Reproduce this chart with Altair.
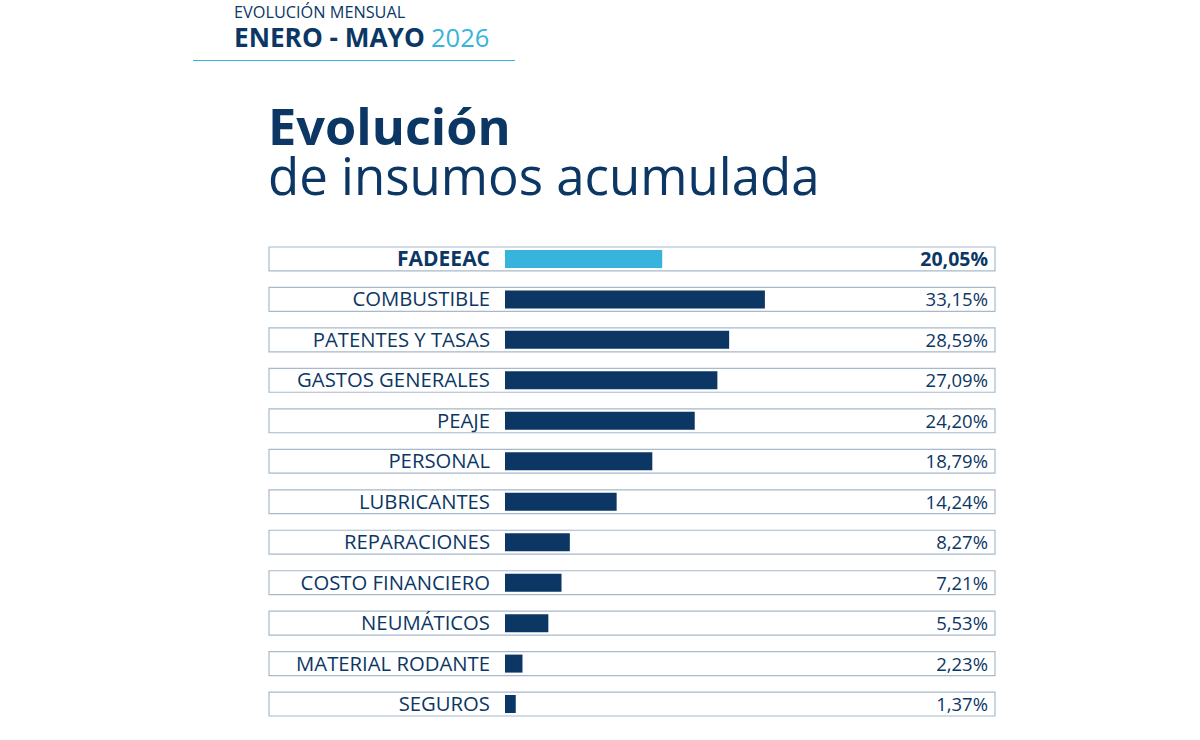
import altair as alt
import pandas as pd

categories = ["FADEEAC", "COMBUSTIBLE", "PATENTES Y TASAS", "GASTOS GENERALES", "PEAJE",
              "PERSONAL", "LUBRICANTES", "REPARACIONES", "COSTO FINANCIERO", "NEUMÁTICOS",
              "MATERIAL RODANTE", "SEGUROS"]
values = [20.05, 33.15, 28.59, 27.09, 24.20, 18.79, 14.24, 8.27, 7.21, 5.53, 2.23, 1.37]
highlight = [True] + [False] * 11

labels = [f"{v:.2f}".replace(".", ",") + "%" for v in values]

NAVY = "#0c3765"
LIGHT = "#36b4dc"
BOX = "#a7b9cc"
FONT = "Open Sans"

df = pd.DataFrame({
    "cat": categories,
    "val": values,
    "lab": labels,
    "hl": highlight,
})

W, H = 1200, 740
K = 7.84  # px per percentage point
X0 = 505
xscale = alt.Scale(domain=[-X0 / K, (W - X0) / K], range=[0, W], nice=False, zero=False)
yscale = alt.Scale(domain=categories, range=[247, 716], paddingInner=0.41, paddingOuter=0)

yenc = alt.Y("cat:N", scale=yscale, sort=categories, axis=None)

base = alt.Chart(df)

boxes = base.mark_rect(fill="white", stroke=BOX, strokeWidth=1.2).encode(
    x=alt.value(269), x2=alt.value(995), y=yenc
)

bars = base.mark_bar(size=18).encode(
    x=alt.X("val:Q", scale=xscale, axis=None),
    x2=alt.datum(0),
    y=yenc,
    color=alt.Color("hl:N", scale=alt.Scale(domain=[True, False], range=[LIGHT, NAVY]), legend=None),
)

def row_text(field, x, weight, flt, size):
    return base.transform_filter(flt).mark_text(
        align="right", baseline="middle", font=FONT, fontSize=size, color=NAVY,
        fontWeight=weight, dy=1).encode(x=alt.value(x), y=yenc, text=f"{field}:N")

cat_b = row_text("cat", 490, "bold", "datum.hl", 21)
cat_n = row_text("cat", 490, "normal", "!datum.hl", 20.3)
val_b = row_text("lab", 988, "bold", "datum.hl", 19.5)
val_n = row_text("lab", 988, "normal", "!datum.hl", 18.5)

one = alt.Data(values=[{"a": 1}])

def txt(s, x, y, size, weight="normal", color=NAVY, baseline="alphabetic"):
    return alt.Chart(one).mark_text(text=s, align="left", baseline=baseline, font=FONT,
                                    fontSize=size, fontWeight=weight, color=color).encode(
        x=alt.value(x), y=alt.value(y))

hdr1 = txt("EVOLUCIÓN MENSUAL", 234, 17.5, 16.3)
hdr2 = txt("ENERO - MAYO", 234, 47, 26.2, "bold")
hdr3 = txt("2026", 431, 47, 25.5, "normal", LIGHT)
rule = alt.Chart(one).mark_rule(color=LIGHT, strokeWidth=1).encode(
    x=alt.value(193), x2=alt.value(515), y=alt.value(60.5))
title1 = txt("Evolución", 268, 145, 50.5, "bold")
title2 = txt("de insumos acumulada", 268, 195, 51, "normal")

chart = alt.layer(
    boxes, bars, cat_b, cat_n, val_b, val_n, hdr1, hdr2, hdr3, rule, title1, title2
).properties(
    width=W, height=H, padding=0, autosize=alt.AutoSizeParams(type="none"),
    background="white",
).configure_view(stroke=None)

chart.save("out.html", embed_options={"renderer": "svg", "actions": False})
